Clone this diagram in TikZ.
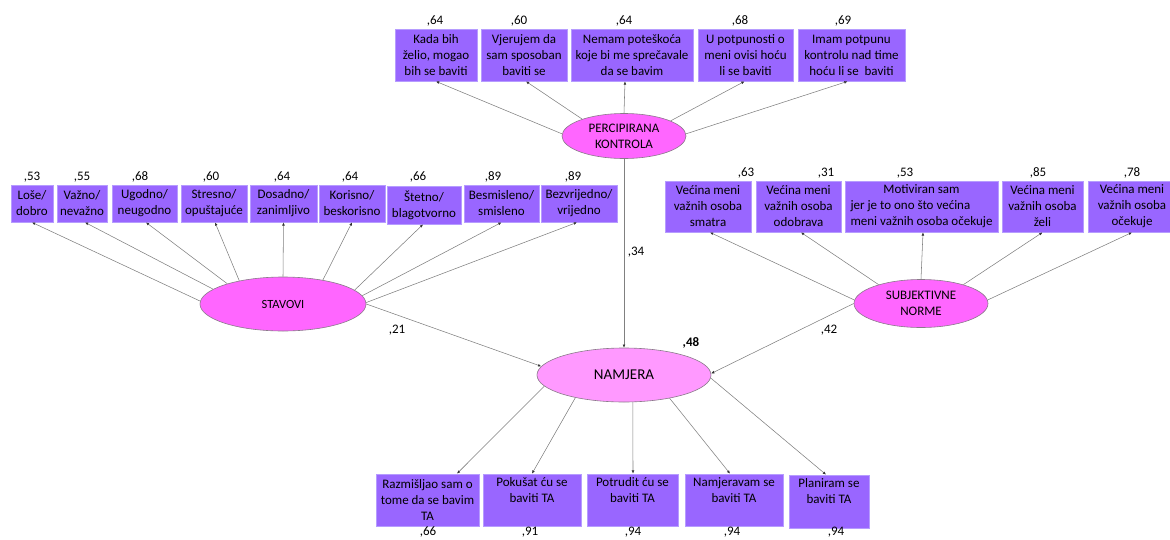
\documentclass[tikz,border=0pt]{standalone}
\usepackage{fontspec}
\setmainfont{Carlito}
\usetikzlibrary{arrows.meta,shapes.geometric}
\definecolor{boxfill}{HTML}{9966FF}
\definecolor{boxline}{HTML}{B69CFF}
\definecolor{ellfill}{HTML}{FF66FF}
\definecolor{namfill}{HTML}{FF99FF}
\definecolor{conn}{HTML}{808080}
\definecolor{ellline}{HTML}{8A7A8A}
\begin{document}
\begin{tikzpicture}[x=1pt,y=-1pt,
  box/.style={draw=boxline, line width=0.8pt, fill=boxfill, inner sep=0pt, align=center,
    font=\fontsize{13}{16}\selectfont},
  lat/.style={ellipse, draw=ellline, line width=0.6pt, fill=ellfill, inner sep=0pt, align=center,
    font=\fontsize{13}{16}\selectfont},
  lbl/.style={inner sep=0pt, font=\fontsize{13}{15}\selectfont},
  arr/.style={draw=conn, line width=0.55pt, -{Latex[length=3.2pt,width=2.8pt,color=black!80]}},
]
\useasboundingbox (0,0) rectangle (1170,539);

% latent variables
\node[lat, minimum width=124, minimum height=45] (pk) at (624,136) {PERCIPIRANA\\KONTROLA};
\node[lat, minimum width=166, minimum height=54, font=\fontsize{12.5}{15}\selectfont] (st) at (283,304) {STAVOVI};
\node[lat, minimum width=134, minimum height=48] (sn) at (921,303.5) {SUBJEKTIVNE\\NORME};
\node[lat, minimum width=174, minimum height=54, fill=namfill, font=\fontsize{15}{18}\selectfont] (nam) at (624,375) {NAMJERA};

% perceived control items
\node[box, minimum width=82, minimum height=52] (p1) at (436,55) {Kada bih\\želio, mogao\\bih se baviti};
\node[box, minimum width=86, minimum height=52] (p2) at (524,55) {Vjerujem da\\sam sposoban\\baviti se};
\node[box, minimum width=122, minimum height=52] (p3) at (632,55) {Nemam poteškoća\\koje bi me sprečavale\\da se bavim};
\node[box, minimum width=95, minimum height=52] (p4) at (745.5,55) {U potpunosti o\\meni ovisi hoću\\li se baviti};
\node[box, minimum width=107, minimum height=52] (p5) at (851.5,55) {Imam potpunu\\kontrolu nad time\\hoću li se\ \ baviti};
\node[lbl] (lp1) at (435,21) {,64};
\node[lbl] (lp2) at (519,21) {,60};
\node[lbl] (lp3) at (624,21) {,64};
\node[lbl] (lp4) at (740,21) {,68};
\node[lbl] (lp5) at (843,21) {,69};

% attitude items
\node[box, minimum width=42, minimum height=37] (t1) at (32,203.5) {Loše/\\dobro};
\node[box, minimum width=50, minimum height=37] (t2) at (82,203.5) {Važno/\\nevažno};
\node[box, minimum width=65, minimum height=37] (t3) at (144.5,203.5) {Ugodno/\\neugodno};
\node[box, minimum width=66, minimum height=37] (t4) at (214,203.5) {Stresno/\\opuštajuće};
\node[box, minimum width=67, minimum height=37] (t5) at (283.5,203.5) {Dosadno/\\zanimljivo};
\node[box, minimum width=66, minimum height=37] (t6) at (352,203.5) {Korisno/\\beskorisno};
\node[box, minimum width=74, minimum height=38] (t7) at (424,205) {Štetno/\\blagotvorno};
\node[box, minimum width=75, minimum height=37] (t8) at (501.5,203.5) {Besmisleno/\\smisleno};
\node[box, minimum width=76, minimum height=37] (t9) at (579,203.5) {Bezvrijedno/\\vrijedno};
\node[lbl] (lt1) at (32,177) {,53};
\node[lbl] (lt2) at (82,177) {,55};
\node[lbl] (lt3) at (140,177) {,68};
\node[lbl] (lt4) at (211,177) {,60};
\node[lbl] (lt5) at (282,177) {,64};
\node[lbl] (lt6) at (350,177) {,64};
\node[lbl] (lt7) at (418,177) {,66};
\node[lbl] (lt8) at (493,177) {,89};
\node[lbl] (lt9) at (573,177) {,89};

% subjective norm items
\node[box, minimum width=86, minimum height=51] (s1) at (708,206.5) {Većina meni\\važnih osoba\\smatra};
\node[box, minimum width=85, minimum height=51] (s2) at (798.5,206.5) {Većina meni\\važnih osoba\\odobrava};
\node[box, minimum width=153, minimum height=51] (s3) at (921.5,206.5)
  {\begin{tabular}{@{}l@{}}\multicolumn{1}{@{}c@{}}{Motiviran sam}\\jer je to ono što većina\\meni važnih osoba očekuje\end{tabular}};
\node[box, minimum width=81, minimum height=51] (s4) at (1042.5,206.5) {Većina meni\\važnih osoba\\želi};
\node[box, minimum width=88, minimum height=51] (s5) at (1132,206.5) {Većina meni\\važnih osoba\\očekuje};
\node[lbl] (ls1) at (746,173) {,63};
\node[lbl] (ls2) at (826,173) {,31};
\node[lbl] (ls3) at (905,173) {,53};
\node[lbl] (ls4) at (1038,173) {,85};
\node[lbl] (ls5) at (1132,173) {,78};

% intention items
\node[box, minimum width=103, minimum height=52] (b1) at (427.5,500) {Razmišljao sam o\\tome da se bavim\\TA};
\node[box, minimum width=98, minimum height=52] (b2) at (532,500) {Pokušat ću se\\baviti TA\\\strut};
\node[box, minimum width=91, minimum height=52] (b3) at (632.5,500) {Potrudit ću se\\baviti TA\\\strut};
\node[box, minimum width=98, minimum height=52] (b4) at (734,500) {Namjeravam se\\baviti TA\\\strut};
\node[box, minimum width=80, minimum height=53] (b5) at (829,501.5) {Planiram se\\baviti TA\\\strut};
\node[lbl] (lb1) at (428,531.5) {,66};
\node[lbl] (lb2) at (530,532) {,91};
\node[lbl] (lb3) at (633,532) {,94};
\node[lbl] (lb4) at (732,532) {,94};
\node[lbl] (lb5) at (836,532.5) {,94};

% path coefficients
\node[lbl] (c34) at (636,252) {,34};
\node[lbl] (c21) at (397,330) {,21};
\node[lbl] (c42) at (829,330) {,42};
\node[lbl, font=\bfseries\fontsize{13}{15}\selectfont] (r48) at (691,343) {,48};

% connectors: perceived control
\draw[arr] (pk.178) -- (p1.south);
\draw[arr] (pk.158) -- ([xshift=2]p2.south);
\draw[arr] (pk.north) -- ([xshift=-7]p3.south);
\draw[arr] (pk.18) -- ([xshift=-1]p4.south);
\draw[arr] (pk.2) -- ([xshift=-4]p5.south);

% connectors: attitudes
\draw[arr] (st.178) -- (t1.south);
\draw[arr] (st.168) -- ([xshift=3]t2.south);
\draw[arr] (st.160) -- ([xshift=1.5]t3.south);
\draw[arr] (st.152) -- ([xshift=1]t4.south);
\draw[arr] (st.north) -- (t5.south);
\draw[arr] (st.31) -- (t6.south);
\draw[arr] (st.11) -- ([xshift=-1]t7.south);
\draw[arr] (st.6) -- (t8.south);
\draw[arr] (st.1.5) -- ([xshift=-2]t9.south);

% connectors: subjective norms
\draw[arr] (sn.177) -- ([xshift=2]s1.south);
\draw[arr] (sn.156) -- ([xshift=2.5]s2.south);
\draw[arr] (sn.north) -- ([xshift=1.5]s3.south);
\draw[arr] (sn.24) -- (s4.south);
\draw[arr] (sn.3) -- (s5.south);

% structural paths
\draw[arr] (pk.south) -- (nam.north);
\draw[arr] (st.east) -- (nam.174);
\draw[arr] (sn.west) -- (nam.1);

% connectors: intention
\draw[arr] (nam.188) -- ([xshift=29.5]b1.north);
\draw[arr] (nam.205) -- (b2.north);
\draw[arr] (nam.288) -- ([xshift=0.5]b3.north);
\draw[arr] (nam.333) -- ([xshift=-4]b4.north);
\draw[arr] (nam.358) -- ([xshift=-3]b5.north);
\end{tikzpicture}
\end{document}
